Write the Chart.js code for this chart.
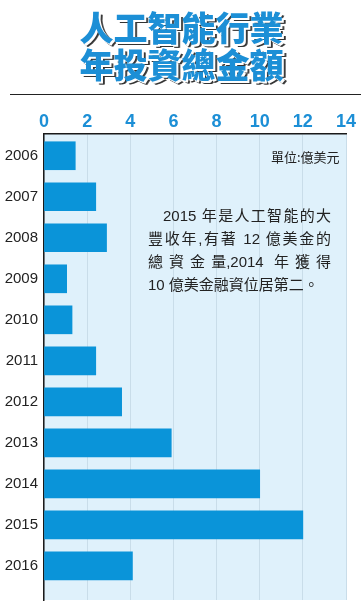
<!DOCTYPE html>
<html>
<head>
<meta charset="utf-8">
<script src="https://cdn.jsdelivr.net/npm/chart.js@4/dist/chart.umd.min.js"></script>
<style>
  html, body { margin: 0; padding: 0; background: #fff; }
  #wrap { position: relative; width: 363px; height: 604px; overflow: hidden; }
  #chart { position: absolute; left: 0; top: 0; }
  .title {
    position: absolute; left: 0; width: 363px; text-align: center;
    font-family: "Noto Sans CJK TC", "Noto Sans CJK SC", sans-serif;
    font-weight: 900; font-size: 34px; line-height: 36px; letter-spacing: 0px;
    color: #1c8fd6;
    -webkit-text-stroke: 1.2px #fff;
    paint-order: stroke fill;
    text-shadow: 1px 1px 0 #fff, 2px 2px 0 #fff, 3px 3px 0 #333, 4px 3px 0 #555, -1px -1px 0 #fff, 1px -1px 0 #fff, -1px 1px 0 #fff;
  }
  #rule { position: absolute; left: 10px; top: 94px; width: 351px; height: 0; border-top: 1.5px solid #222; }
  #unit {
    position: absolute; left: 271px; top: 147px;
    font-family: "Noto Sans CJK TC", sans-serif; font-size: 13px; color: #222;
  }
  #note {
    position: absolute; left: 148px; top: 204px; width: 183px;
    font-family: "Liberation Sans", "Noto Sans CJK TC", sans-serif; font-size: 15px; line-height: 23px;
    color: #222;
  }
  #note span.ln { display: block; white-space: nowrap; text-align: justify; text-align-last: justify; }
  #note span.last { text-align-last: left; }
  #note span.nb { display: inline-block; }
</style>
</head>
<body>
<div id="wrap">
  <canvas id="chart" width="363" height="604"></canvas>
  <div class="title" style="top:9px">人工智能行業</div>
  <div class="title" style="top:46px">年投資總金額</div>
  <div id="rule"></div>
  <div id="unit">單位:億美元</div>
  <div id="note">
    <span class="ln" style="padding-left:15px">2015 年是人工智能的大</span>
    <span class="ln">豐收年,有著 12 億美金的</span>
    <span class="ln">總資金<span class="nb">量,</span>2014 年獲得</span>
    <span class="ln last">10 億美金融資位居第二。</span>
  </div>
</div>
<script>
// 年份與投資金額（億美元）
const years = [2006, 2007, 2008, 2009, 2010, 2011, 2012, 2013, 2014, 2015, 2016];
const amounts = [1.45, 2.4, 2.9, 1.05, 1.3, 2.4, 3.6, 5.9, 10.0, 12.0, 4.1];
const xTicks = [0, 2, 4, 6, 8, 10, 12, 14];

// 繪圖區淺藍底色
const plotBg = {
  id: 'plotBg',
  beforeDraw(chart) {
    const a = chart.chartArea;
    const ctx = chart.ctx;
    ctx.save();
    ctx.fillStyle = '#dff1fb';
    ctx.fillRect(a.left, a.top, a.right - a.left, a.bottom - a.top);
    ctx.restore();
  }
};

new Chart(document.getElementById('chart'), {
  type: 'bar',
  data: {
    datasets: [{
      data: years.map((y, i) => ({ x: amounts[i], y: y })),
      backgroundColor: '#0a94d9',
      borderWidth: 0,
      barThickness: 28
    }]
  },
  options: {
    indexAxis: 'y',
    responsive: false,
    animation: false,
    layout: { padding: { top: 0, right: 17, bottom: 4, left: 0 } },
    plugins: { legend: { display: false }, tooltip: { enabled: false } },
    scales: {
      x: {
        type: 'linear',
        position: 'top',
        min: 0,
        max: 14,
        afterBuildTicks: (s) => { s.ticks = xTicks.map(v => ({ value: v })); },
        afterFit: (s) => { s.height = 134; s.paddingLeft = 0; s.paddingRight = 0; },
        grid: { color: '#c9dde9', lineWidth: 1, drawTicks: false },
        border: { color: '#1a1a1a', width: 1.5 },
        ticks: {
          color: '#1c8fd6',
          padding: 1,
          font: { family: 'Liberation Sans', size: 18, weight: 'bold' }
        }
      },
      y: {
        type: 'linear',
        reverse: true,
        offset: false,
        min: 2005.47,
        max: 2016.83,
        afterBuildTicks: (s) => { s.ticks = years.map(v => ({ value: v })); },
        afterFit: (s) => { s.width = 44; s.paddingTop = 0; s.paddingBottom = 0; },
        grid: { display: false, drawTicks: false, offset: false },
        border: { color: '#1a1a1a', width: 1.5 },
        ticks: {
          color: '#222',
          padding: 6,
          callback: (v) => String(v),
          font: { family: 'Liberation Sans', size: 15 }
        }
      }
    }
  },
  plugins: [plotBg]
});
</script>
</body>
</html>
